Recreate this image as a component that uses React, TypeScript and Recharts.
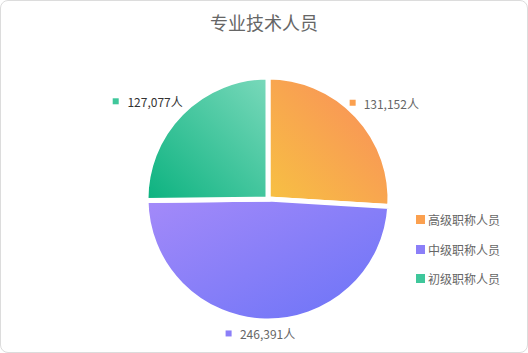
import { PieChart, Pie, Cell } from 'recharts'

const names = ['高级职称人员', '中级职称人员', '初级职称人员']
const counts = [131152, 246391, 127077]
const labelColors = ['#666666', '#666666', '#333333']

// gradient stops: [from, to] plus direction
const GRADS = [
  { id: 'gOrange', x1: 1, y1: 0, x2: 0, y2: 1, from: '#f98a5c', to: '#f7c242' },
  { id: 'gPurple', x1: 0, y1: 0, x2: 1, y2: 1, from: '#a48af9', to: '#6a73f7' },
  { id: 'gGreen', x1: 1, y1: 0, x2: 0, y2: 1, from: '#7ad9bb', to: '#0bb27f' },
]
const swatch = ['#fba04f', '#8b7ff8', '#3fc79b']

const data = names.map((name, i) => ({ name, value: counts[i] }))

const CX = 268
const CY = 199
const R = 122
const RAD = Math.PI / 180

const fmt = (v: number) => v.toLocaleString('en-US') + '人'

function renderLabel(props: any) {
  const { midAngle, index, value } = props
  const r = R + 12
  const c = Math.cos(-midAngle * RAD)
  const x = CX + r * c
  let y = CY + r * Math.sin(-midAngle * RAD)
  let textX = x
  let boxX = x
  let anchor: 'start' | 'end' | 'middle' = 'middle'
  if (c > 0.3) {
    anchor = 'start'
    boxX = x - 16
    textX = x - 2
    y -= 4
  } else if (c < -0.3) {
    anchor = 'end'
    textX = x + 10
    boxX = x - 60
    y -= 3
  } else {
    boxX = x - 39
    textX = x + 3
    y += 1
  }
  return (
    <g key={'lbl' + index}>
      <rect x={boxX} y={y - 3.5} width={6} height={6} fill={swatch[index]} />
      <text
        x={textX}
        y={y}
        textAnchor={anchor}
        dominantBaseline="central"
        fontSize={12}
        fill={labelColors[index]}
      >
        {fmt(value)}
      </text>
    </g>
  )
}

export default function App() {
  return (
    <div
      style={{
        position: 'absolute',
        left: 0,
        top: 0,
        width: 528,
        height: 353,
        boxSizing: 'border-box',
        border: '1px solid #dcdcdc',
        borderRadius: 8,
        background: '#fff',
        fontFamily: '"Noto Sans CJK SC", "Noto Sans", sans-serif',
        overflow: 'hidden',
      }}
    >
      <div
        style={{
          position: 'absolute',
          top: 8,
          left: 0,
          width: 526,
          textAlign: 'center',
          fontSize: 18,
          color: '#666',
        }}
      >
        专业技术人员
      </div>
      <PieChart
        width={526}
        height={351}
        margin={{ top: 0, right: 0, bottom: 0, left: 0 }}
        style={{ position: 'absolute', left: -1, top: -1 }}
      >
        <defs>
          {GRADS.map((g) => (
            <linearGradient key={g.id} id={g.id} x1={g.x1} y1={g.y1} x2={g.x2} y2={g.y2}>
              <stop offset="0%" stopColor={g.from} />
              <stop offset="100%" stopColor={g.to} />
            </linearGradient>
          ))}
        </defs>
        <Pie
          data={data}
          dataKey="value"
          nameKey="name"
          cx={CX}
          cy={CY}
          outerRadius={R}
          startAngle={90}
          endAngle={-270}
          stroke="#fff"
          strokeWidth={5}
          label={renderLabel}
          labelLine={false}
          isAnimationActive={false}
        >
          {data.map((d, i) => (
            <Cell key={d.name} fill={`url(#${GRADS[i].id})`} />
          ))}
        </Pie>
      </PieChart>
      <div style={{ position: 'absolute', left: 415, top: 204 }}>
        {names.map((n, i) => (
          <div
            key={n}
            style={{ display: 'flex', alignItems: 'center', height: 29.5, fontSize: 12, color: '#666' }}
          >
            <span
              style={{ display: 'inline-block', width: 9, height: 9, background: swatch[i], marginRight: 3 }}
            />
            {n}
          </div>
        ))}
      </div>
    </div>
  )
}
